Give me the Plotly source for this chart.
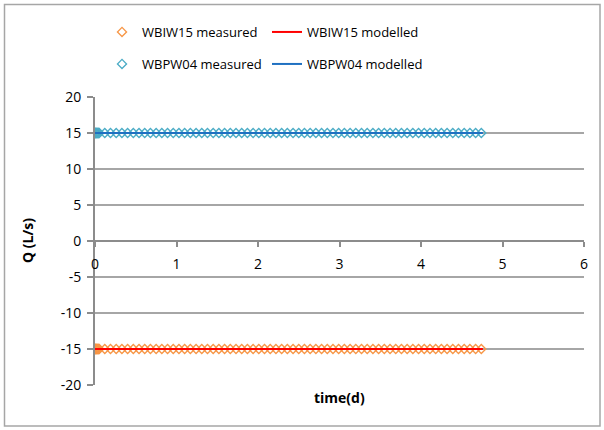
import plotly.graph_objects as go

# ---- data ----
meas_t = [0.0, 0.004, 0.008, 0.012, 0.017, 0.022, 0.028, 0.034, 0.04, 0.046, 0.052,
          0.12, 0.19, 0.26, 0.33, 0.40, 0.47, 0.54, 0.61, 0.68, 0.75, 0.82, 0.89, 0.96,
          1.03, 1.10, 1.17, 1.24, 1.31, 1.38, 1.45, 1.52, 1.59, 1.66, 1.73, 1.80, 1.87,
          1.94, 2.01, 2.08, 2.15, 2.22, 2.29, 2.36, 2.43, 2.50, 2.57, 2.64, 2.71, 2.78,
          2.85, 2.92, 2.99, 3.06, 3.13, 3.20, 3.27, 3.34, 3.41, 3.48, 3.55, 3.62, 3.69,
          3.76, 3.83, 3.90, 3.97, 4.04, 4.11, 4.18, 4.25, 4.32, 4.39, 4.46, 4.53, 4.60,
          4.67, 4.74]
wbiw15_meas = [-15.0] * len(meas_t)
wbpw04_meas = [15.0] * len(meas_t)

model_t = [0.0, 4.76]
wbiw15_model = [-15.0, -15.0]
wbpw04_model = [15.0, 15.0]

x_ticks = [0, 1, 2, 3, 4, 5, 6]
y_ticks = [-20, -15, -10, -5, 0, 5, 10, 15, 20]

FONT = "Open Sans"
ORANGE = "#F79646"
CYAN = "#4BACC6"
RED = "#FF0000"
BLUE = "#1F70C1"
GRID = "#A6A6A6"

fig = go.Figure()
fig.add_trace(go.Scatter(x=meas_t, y=wbiw15_meas, mode="markers", name="WBIW15 measured",
                         marker=dict(symbol="diamond-open", size=7, color=ORANGE, line=dict(width=1.3)),
                         legend="legend"))
fig.add_trace(go.Scatter(x=model_t, y=wbiw15_model, mode="lines", name="WBIW15 modelled",
                         line=dict(color=RED, width=2), legend="legend"))
fig.add_trace(go.Scatter(x=meas_t, y=wbpw04_meas, mode="markers", name="WBPW04 measured",
                         marker=dict(symbol="diamond-open", size=7, color=CYAN, line=dict(width=1.3)),
                         legend="legend2"))
fig.add_trace(go.Scatter(x=model_t, y=wbpw04_model, mode="lines", name="WBPW04 modelled",
                         line=dict(color=BLUE, width=2), legend="legend2"))

L, R, T, B = 95, 20, 97, 45
W, H = 604, 430
pw, ph = W - L - R, H - T - B

def px_to_paper_x(px):
    return (px - L) / pw

def px_to_paper_y(py):
    return (H - B - py) / ph

legend_common = dict(orientation="h", xanchor="left", yanchor="middle",
                     entrywidth=120, entrywidthmode="pixels",
                     font=dict(family=FONT, size=13, color="#000000"),
                     bgcolor="rgba(0,0,0,0)", itemwidth=30, tracegroupgap=0)

fig.update_layout(
    width=W, height=H,
    margin=dict(l=L, r=R, t=T, b=B),
    paper_bgcolor="white", plot_bgcolor="white",
    font=dict(family=FONT, size=14, color="#000000"),
    showlegend=True,
    legend=dict(x=px_to_paper_x(102), y=px_to_paper_y(32), **legend_common),
    legend2=dict(x=px_to_paper_x(102), y=px_to_paper_y(64), **legend_common),
    xaxis=dict(range=[0, 6], tickvals=x_ticks, ticktext=[str(v) for v in x_ticks],
               anchor="free", position=0.5, showline=True, linecolor="#8C8C8C", linewidth=1.5,
               ticks="outside", ticklen=5, tickcolor="#8C8C8C", tickwidth=1.5,
               ticklabelstandoff=5,
               showgrid=False, zeroline=False, tickfont=dict(family=FONT, size=14)),
    yaxis=dict(range=[-20, 20], tickvals=y_ticks, ticktext=[str(v) for v in y_ticks],
               showline=True, linecolor="#8C8C8C", linewidth=2,
               ticks="outside", ticklen=6, tickcolor="#8C8C8C", tickwidth=1.5,
               ticklabelstandoff=3,
               showgrid=True, gridcolor=GRID, gridwidth=1.5, zeroline=False,
               tickfont=dict(family=FONT, size=14)),
    annotations=[
        dict(text="<b>time(d)</b>", xref="paper", yref="paper", x=0.5, y=px_to_paper_y(397),
             xanchor="center", yanchor="middle", showarrow=False,
             font=dict(family=FONT, size=14)),
        dict(text="<b>Q (L/s)</b>", xref="paper", yref="paper", x=px_to_paper_x(27), y=0.5,
             xanchor="center", yanchor="middle", showarrow=False, textangle=-90,
             font=dict(family=FONT, size=14)),
    ],
    shapes=[
        dict(type="rect", xref="paper", yref="paper",
             x0=px_to_paper_x(4.5), x1=px_to_paper_x(600), y0=px_to_paper_y(426), y1=px_to_paper_y(4.5),
             line=dict(color="#A6A6A6", width=1.5), fillcolor="rgba(0,0,0,0)", layer="below"),
    ],
)

fig.write_html("out.html", config={"displayModeBar": False},
               post_script="document.body.style.margin='0';document.body.style.overflow='hidden';")
